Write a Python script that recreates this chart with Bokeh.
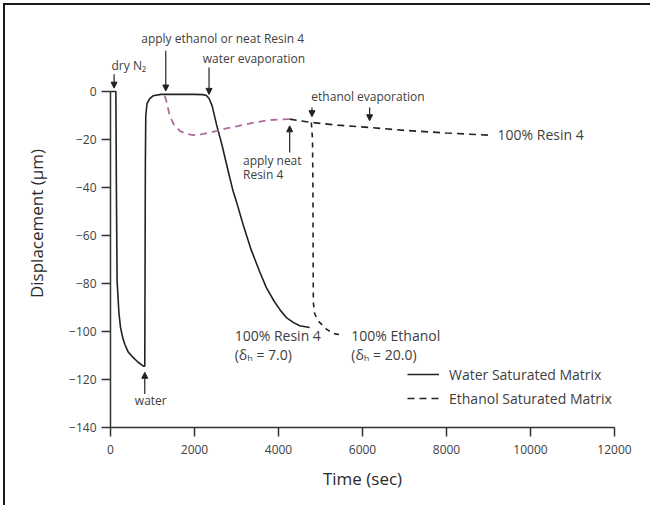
from bokeh.plotting import figure
from bokeh.models import ColumnDataSource, Arrow, NormalHead, Legend, LegendItem
from bokeh.core.properties import value
from bokeh.embed import file_html
from bokeh.resources import INLINE

# --- data ---
water_t = [0, 128, 140, 157, 200, 238, 290, 340, 420, 538, 650, 776, 800, 816, 822, 830, 840, 870,
           935, 1014, 1200, 1500, 2000, 2200, 2284, 2350, 2420, 2522, 2650, 2800, 2917, 3000, 3155,
           3350, 3550, 3711, 3900, 4050, 4187, 4350, 4504, 4742]
water_y = [0, 0, -40, -79, -92, -98.3, -102.5, -105.3, -108.5, -110.8, -112.7, -114.3, -114.5, -114.5,
           -80, -30, -10, -5, -3, -1.8, -1.2, -1.2, -1.2, -1.3, -1.7, -3, -6, -13.6, -22, -33, -41.4,
           -46, -55.3, -66, -75, -81.7, -87.5, -91.3, -94.2, -96.2, -97.6, -98.3]

eth_pink_t = [1292, 1330, 1411, 1500, 1649, 1800, 1966, 2150, 2363, 2560, 2760, 3000, 3236, 3500,
              3790, 4050, 4266]
eth_pink_y = [-1.8, -4, -10.1, -13.5, -16.4, -17.6, -18.2, -17.9, -17.1, -16.3, -15.4, -14.5, -13.6,
              -12.7, -11.9, -11.6, -11.5]

eth_resin_t = [4266, 4504, 4782, 5400, 6170, 7000, 8000, 9000]
eth_resin_y = [-11.5, -12.2, -12.9, -14, -15, -16.2, -17.3, -18.2]

eth_drop_t = [4782, 4810, 4820, 4825, 4830, 4860, 4940, 5139, 5300, 5535]
eth_drop_y = [-12.9, -20, -40, -70, -88, -92.5, -95.5, -99, -100.8, -101.5]

x_ticks = [0, 2000, 4000, 6000, 8000, 10000, 12000]
y_ticks = [0, -20, -40, -60, -80, -100, -120, -140]

# annotation arrows (start -> end, data units)
arr_x0 = [85, 1316, 2346, 4797, 6170, 4266, 816]
arr_y0 = [7.2, 17, 10, -6.7, -6.7, -25.4, -126]
arr_x1 = [85, 1316, 2346, 4797, 6170, 4266, 816]
arr_y1 = [1.4, 0.2, -1.2, -10.5, -12.2, -14.3, -117]

# labels
lab_left_x = [24, 4782, 3155, 3155]
lab_left_y = [10.7, -2.2, -28.6, -34.7]
lab_left_t = ["dry N\u2082", "ethanol evaporation", "apply neat", "Resin 4"]

lab_ctr_x = [2671, 3414, 959]
lab_ctr_y = [22.1, 13.75, -128.9]
lab_ctr_t = ["apply ethanol or neat Resin 4", "water evaporation", "water"]

lab_big_x = [2957, 2957, 5734, 5734, 9215]
lab_big_y = [-101.8, -109.4, -101.8, -109.4, -18]
lab_big_t = ["100% Resin 4", "(\u03b4\u2095 = 7.0)", "100% Ethanol", "(\u03b4\u2095 = 20.0)", "100% Resin 4"]

FONT = "Open Sans"
INK = "#222222"
TXT = "#404040"
PINK = "#b06c9c"

p = figure(width=647, height=502, output_backend="svg", toolbar_location=None,
           x_range=(0, 12000), y_range=(-140, 30),
           min_border_left=105, min_border_right=38, min_border_top=14, min_border_bottom=80,
           background_fill_color="white", border_fill_color="white")
p.styles = {"border-top": "2px solid #1a1a1a", "border-left": "2px solid #1a1a1a",
            "margin-left": "3px", "margin-top": "3px"}
p.outline_line_color = None
p.grid.visible = False

p.xaxis.ticker = x_ticks
p.yaxis.ticker = y_ticks
p.xaxis.bounds = (0, 12000)
p.yaxis.bounds = (-140, 0)
for ax in (p.xaxis, p.yaxis):
    ax.axis_line_color = "#333333"
    ax.axis_line_width = 1.5
    ax.major_tick_line_color = "#333333"
    ax.major_tick_line_width = 1.5
    ax.major_tick_in = 0
    ax.major_tick_out = 9
    ax.minor_tick_line_color = None
    ax.major_label_text_font = FONT
    ax.major_label_text_font_size = "12px"
    ax.major_label_text_color = TXT
    ax.axis_label_text_font = FONT
    ax.axis_label_text_font_size = "17px"
    ax.axis_label_text_font_style = "normal"
    ax.axis_label_text_color = "#2a2a2a"
p.xaxis.major_label_standoff = 8
p.yaxis.major_label_standoff = 5
p.xaxis.axis_label = "Time (sec)"
p.yaxis.axis_label = "Displacement (\u00b5m)"
p.xaxis.axis_label_standoff = 10
p.yaxis.axis_label_standoff = 18

r_water = p.line(water_t, water_y, line_color=INK, line_width=1.6)
p.line(eth_pink_t, eth_pink_y, line_color=PINK, line_width=1.8, line_dash="7 5")
r_eth = p.line(eth_resin_t, eth_resin_y, line_color=INK, line_width=1.6, line_dash="7 5")
p.line(eth_drop_t, eth_drop_y, line_color=INK, line_width=1.6, line_dash="5 5")

arr_src = ColumnDataSource(dict(x0=arr_x0, y0=arr_y0, x1=arr_x1, y1=arr_y1))
p.add_layout(Arrow(end=NormalHead(size=6, fill_color=INK, line_color=INK, line_width=1),
                   x_start="x0", y_start="y0", x_end="x1", y_end="y1",
                   line_color=INK, line_width=1.2, source=arr_src))

p.text(lab_left_x, lab_left_y, text=lab_left_t, text_font=value(FONT), text_font_size="12px",
       text_color=TXT, text_align="left", text_baseline="middle")
p.text(lab_ctr_x, lab_ctr_y, text=lab_ctr_t, text_font=value(FONT), text_font_size="12px",
       text_color=TXT, text_align="center", text_baseline="middle")
p.text(lab_big_x, lab_big_y, text=lab_big_t, text_font=value(FONT), text_font_size="14px",
       text_color=TXT, text_align="left", text_baseline="middle")

legend = Legend(items=[LegendItem(label="Water Saturated Matrix", renderers=[r_water]),
                       LegendItem(label="Ethanol Saturated Matrix", renderers=[r_eth])],
                location=(297, 19), glyph_width=32, glyph_height=20, label_height=20,
                label_standoff=10, spacing=4, padding=0, margin=0,
                border_line_color=None, background_fill_alpha=0,
                label_text_font=FONT, label_text_font_size="14px", label_text_color=TXT)
p.add_layout(legend)

open("out.html", "w").write(file_html(p, INLINE))
